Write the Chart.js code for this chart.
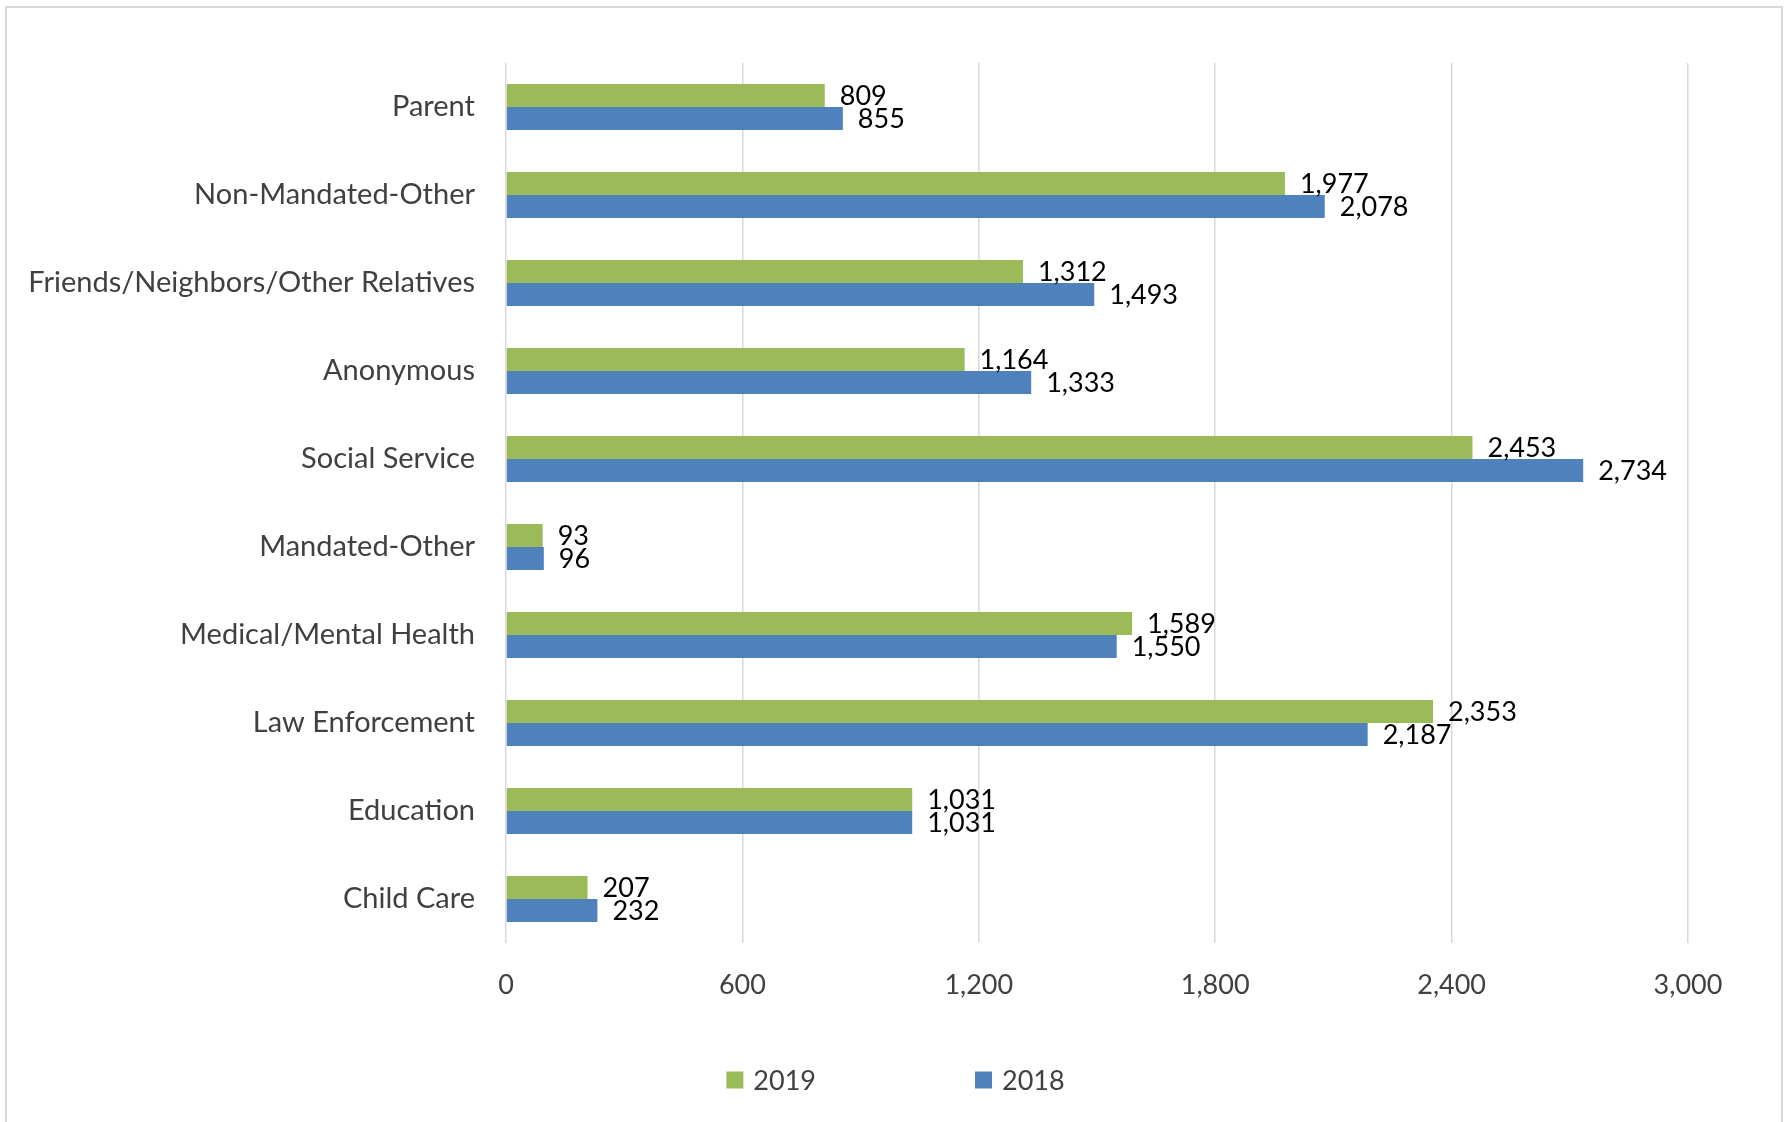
<!DOCTYPE html>
<html>
<head>
<meta charset="utf-8">
<title>Reports by Source</title>
<script src="https://cdn.jsdelivr.net/npm/chart.js@4/dist/chart.umd.min.js"></script>
<style>
    html, body { margin: 0; padding: 0; background: #fff; overflow: hidden; }
    #wrap { position: relative; width: 1791px; height: 1122px; }
    #frame { position: absolute; left: 5px; top: 6px; width: 1778px; height: 1200px; border: 2px solid #d9d9d9; box-sizing: border-box; pointer-events: none; }
</style>
</head>
<body>
<div id="wrap">
    <div id="frame"></div>
    <canvas id="barchart"></canvas>
</div>
<script>
const sources = ['Parent', 'Non-Mandated-Other', 'Friends/Neighbors/Other Relatives', 'Anonymous',
    'Social Service', 'Mandated-Other', 'Medical/Mental Health', 'Law Enforcement', 'Education', 'Child Care'];
const values2019 = [809, 1977, 1312, 1164, 2453, 93, 1589, 2353, 1031, 207];
const values2018 = [855, 2078, 1493, 1333, 2734, 96, 1550, 2187, 1031, 232];
const xTicks = [0, 600, 1200, 1800, 2400, 3000];

const FONT = 'Lato';

// value labels at the end of each bar
const barLabels = {
    id: 'barLabels',
    afterDatasetsDraw(chart) {
        const c = chart.ctx;
        c.save();
        c.font = '27px ' + FONT;
        c.fillStyle = '#000';
        c.textAlign = 'left';
        c.textBaseline = 'middle';
        chart.data.datasets.forEach(function (ds, i) {
            chart.getDatasetMeta(i).data.forEach(function (bar, j) {
                c.fillText(ds.data[j].toLocaleString('en-US'), bar.x + 15, bar.y + 1);
            });
        });
        c.restore();
    }
};

// legend row under the axis, wide gap between the two entries like the original
const legendRow = {
    id: 'legendRow',
    afterDraw(chart) {
        const c = chart.ctx;
        const box = 17, gap = 159;
        c.save();
        c.font = '27px ' + FONT;
        c.textBaseline = 'middle';
        c.textAlign = 'left';
        const items = chart.data.datasets.map(ds => ({
            text: ds.label,
            color: ds.backgroundColor,
            w: box + 10 + c.measureText(ds.label).width
        }));
        const total = items.reduce((s, it) => s + it.w, 0) + gap * (items.length - 1);
        let x = (chart.width - total) / 2;
        const y = chart.chartArea.bottom + 137;
        items.forEach(function (it) {
            c.fillStyle = it.color;
            c.fillRect(x, y - box / 2, box, box);
            c.fillStyle = '#404040';
            c.fillText(it.text, x + box + 10, y + 1);
            x += it.w + gap;
        });
        c.restore();
    }
};

const ctx = document.getElementById('barchart').getContext('2d');

const barchart = new Chart(ctx, {
    type: 'bar',
    data: {
        labels: sources,
        datasets: [{
            label: '2019',
            data: values2019,
            backgroundColor: '#9BBB59',
            borderWidth: 0
        }, {
            label: '2018',
            data: values2018,
            backgroundColor: '#4F81BD',
            borderWidth: 0
        }]
    },
    options: {
        indexAxis: 'y',
        responsive: true,
        maintainAspectRatio: false,
        animation: false,
        categoryPercentage: 0.523,
        barPercentage: 1.0,
        layout: {
            padding: { left: 0, right: 103, top: 63, bottom: 0 }
        },
        plugins: {
            legend: { display: false },
            tooltip: { enabled: false }
        },
        scales: {
            x: {
                min: 0,
                max: 3000,
                afterBuildTicks: function (scale) {
                    scale.ticks = xTicks.map(v => ({ value: v }));
                },
                afterFit: function (scale) {
                    scale.height = 179;
                },
                grid: {
                    color: '#d9d9d9',
                    lineWidth: 1.5,
                    drawTicks: false
                },
                border: { display: false },
                ticks: {
                    padding: 26,
                    color: '#404040',
                    font: { family: FONT, size: 27 },
                    callback: function (v) { return v.toLocaleString('en-US'); }
                }
            },
            y: {
                afterFit: function (scale) {
                    scale.width = 506;
                },
                grid: { display: false, drawTicks: false },
                border: { display: false },
                ticks: {
                    padding: 31,
                    color: '#404040',
                    font: { family: FONT, size: 29 }
                }
            }
        }
    },
    plugins: [barLabels, legendRow]
});
</script>
</body>
</html>
